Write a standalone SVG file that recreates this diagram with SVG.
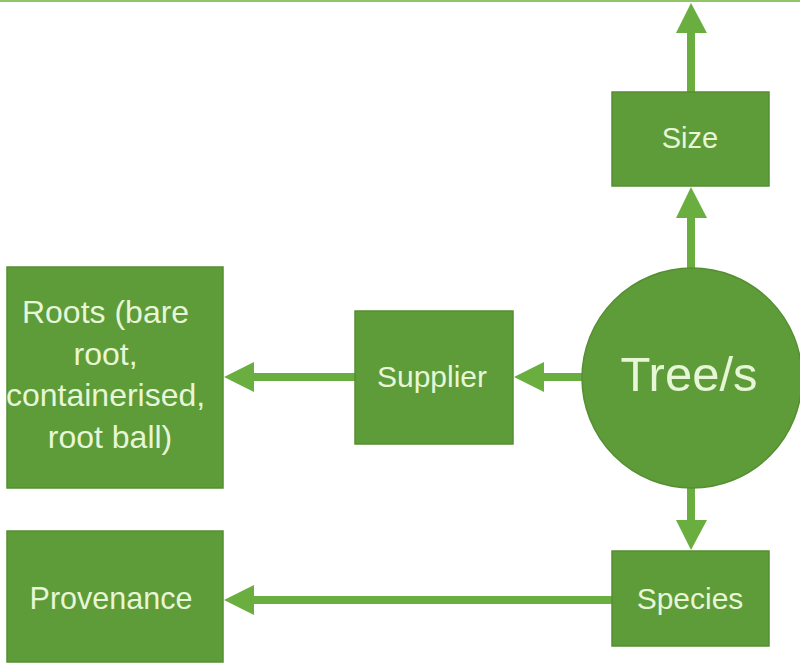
<svg xmlns="http://www.w3.org/2000/svg" width="800" height="664" viewBox="0 0 800 664">
<style>
.box{fill:#5e9b39;stroke:#558f32;stroke-width:1.5}
.lbl{font-family:"Liberation Sans",Arial,sans-serif;fill:#e6f6d6;text-anchor:middle}
.con{stroke:#6aae40;stroke-width:8;fill:none}
.head{fill:#6aae40}
</style>
<rect width="800" height="664" fill="#ffffff"/>
<line x1="0" y1="1" x2="800" y2="1" stroke="#8fc766" stroke-width="2"/>
<g id="connectors">
  <line class="con" x1="691" y1="92" x2="691" y2="30"/>
  <polygon class="head" points="691,3 676,33 707,33"/>
  <line class="con" x1="691" y1="268" x2="691" y2="214"/>
  <polygon class="head" points="691,187 676,218 707,218"/>
  <line class="con" x1="582" y1="377" x2="540" y2="377"/>
  <polygon class="head" points="514,377 544,362 544,392"/>
  <line class="con" x1="355" y1="377" x2="250" y2="377"/>
  <polygon class="head" points="224,377 254,362 254,392"/>
  <line class="con" x1="691" y1="487" x2="691" y2="524"/>
  <polygon class="head" points="691,550 676,520 707,520"/>
  <line class="con" x1="612" y1="600" x2="250" y2="600"/>
  <polygon class="head" points="224,600 254,585 254,615"/>
</g>
<g id="size">
  <rect class="box" x="612" y="92" width="157" height="94"/>
  <text class="lbl" x="690" y="148" font-size="29">Size</text>
</g>
<g id="tree">
  <circle class="box" cx="692" cy="378" r="110"/>
  <text class="lbl" x="689" y="391" font-size="49">Tree/s</text>
</g>
<g id="supplier">
  <rect class="box" x="355" y="311" width="158" height="133"/>
  <text class="lbl" x="432" y="387" font-size="30">Supplier</text>
</g>
<g id="roots">
  <rect class="box" x="7" y="267" width="216" height="221"/>
  <text class="lbl" font-size="32">
    <tspan x="110" y="323">Roots (bare</tspan>
    <tspan x="110" y="365">root,</tspan>
    <tspan x="110" y="406">containerised,</tspan>
    <tspan x="110" y="448">root ball)</tspan>
  </text>
</g>
<g id="provenance">
  <rect class="box" x="7" y="531" width="216" height="131"/>
  <text class="lbl" x="111" y="609" font-size="30.5">Provenance</text>
</g>
<g id="species">
  <rect class="box" x="612" y="551" width="157" height="95"/>
  <text class="lbl" x="690" y="609" font-size="30">Species</text>
</g>
</svg>
